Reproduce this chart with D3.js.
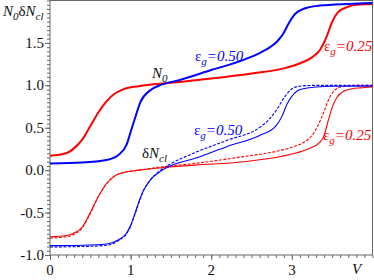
<!DOCTYPE html>
<html>
<head>
<meta charset="utf-8">
<script src="https://cdn.jsdelivr.net/npm/d3@7"></script>
</head>
<body style="margin:0">
<script>
// N0 curves (thick)
const n0RedV   = [0, 0.2, 0.3, 0.4, 0.5, 0.6, 0.7, 0.8, 0.9, 1.1, 1.5, 2.0, 2.5, 2.9, 3.1, 3.25, 3.35, 3.43, 3.5, 3.57, 3.68, 3.8, 4.0];
const n0RedY   = [0.17, 0.2, 0.26, 0.36, 0.52, 0.68, 0.81, 0.9, 0.95, 0.99, 1.03, 1.08, 1.14, 1.2, 1.26, 1.33, 1.42, 1.57, 1.75, 1.86, 1.92, 1.95, 1.96];
const n0BlueV  = [0, 0.4, 0.7, 0.85, 0.95, 1.0, 1.05, 1.12, 1.24, 1.36, 1.6, 2.0, 2.4, 2.6, 2.73, 2.82, 2.9, 2.96, 3.02, 3.14, 3.35, 3.7, 4.0];
const n0BlueY  = [0.08, 0.09, 0.12, 0.18, 0.3, 0.45, 0.6, 0.8, 0.94, 1.0, 1.06, 1.18, 1.3, 1.38, 1.45, 1.52, 1.62, 1.73, 1.82, 1.9, 1.94, 1.96, 1.97];

// dNcl curves (thin solid / dashed)
const clRedV    = [0, 0.2, 0.3, 0.4, 0.5, 0.6, 0.7, 0.8, 0.9, 1.1, 1.4, 1.8, 2.4, 3.0, 3.2, 3.35, 3.4, 3.45, 3.5, 3.56, 3.64, 3.75, 3.85, 4.0];
const clRedY    = [-0.785, -0.77, -0.74, -0.67, -0.5, -0.31, -0.16, -0.07, -0.03, 0.0, 0.03, 0.06, 0.1, 0.19, 0.25, 0.33, 0.41, 0.58, 0.74, 0.86, 0.93, 0.96, 0.97, 0.98];
const clRedDV   = [0, 0.2, 0.3, 0.4, 0.5, 0.6, 0.7, 0.8, 0.9, 1.1, 1.4, 1.8, 2.4, 2.8, 3.0, 3.15, 3.25, 3.32, 3.39, 3.47, 3.54, 3.65, 3.8, 4.0];
const clRedDY   = [-0.8, -0.785, -0.755, -0.68, -0.51, -0.31, -0.16, -0.07, -0.03, 0.0, 0.04, 0.08, 0.16, 0.22, 0.27, 0.33, 0.41, 0.52, 0.67, 0.86, 0.95, 0.99, 1.0, 1.0];
const clBlueV   = [0, 0.4, 0.7, 0.85, 0.95, 1.0, 1.05, 1.1, 1.16, 1.24, 1.36, 1.47, 1.8, 2.2, 2.6, 2.8, 2.88, 2.94, 3.0, 3.06, 3.14, 3.3, 3.5, 4.0];
const clBlueY   = [-0.89, -0.885, -0.87, -0.82, -0.74, -0.65, -0.52, -0.38, -0.24, -0.12, -0.02, 0.04, 0.14, 0.28, 0.41, 0.52, 0.64, 0.78, 0.87, 0.93, 0.96, 0.98, 0.99, 0.99];
const clBlueDV  = [0, 0.4, 0.7, 0.85, 0.95, 1.0, 1.05, 1.1, 1.16, 1.24, 1.36, 1.47, 1.78, 2.19, 2.61, 2.72, 2.81, 2.88, 2.94, 3.02, 3.1, 3.3, 4.0];
const clBlueDY  = [-0.905, -0.9, -0.885, -0.83, -0.75, -0.66, -0.53, -0.39, -0.24, -0.12, -0.01, 0.06, 0.2, 0.35, 0.51, 0.6, 0.71, 0.82, 0.9, 0.97, 0.99, 1.0, 1.0];

const yTicks = [-1.0, -0.5, 0.0, 0.5, 1.0, 1.5];
const xTicks = [0, 1, 2, 3];

const width = 374, height = 280;
const mLeft = 50, mRight = 372.5, mTop = 0.5, mBottom = 255;
const axisColor = '#666';
const serif = '"Liberation Serif"';

const svg = d3.select('body').append('svg')
  .attr('width', width).attr('height', height);

const x = d3.scaleLinear().domain([0, 4]).range([mLeft, mRight]);
const y = d3.scaleLinear().domain([-1, 2]).range([mBottom, mTop]);

// tick marks (minor then major), labels drawn separately
function ticks(axis, t) {
  svg.append('g').attr('transform', t).call(axis)
    .call(g => g.select('.domain').remove())
    .call(g => g.selectAll('line').attr('stroke', axisColor));
}
ticks(d3.axisLeft(y).tickValues(d3.range(-1, 2.001, 0.05)).tickSize(3).tickFormat(''), `translate(${mLeft},0)`);
ticks(d3.axisBottom(x).tickValues(d3.range(0, 4.001, 0.1)).tickSize(3).tickFormat(''), `translate(0,${mBottom})`);
ticks(d3.axisLeft(y).tickValues(yTicks).tickSize(5).tickFormat(''), `translate(${mLeft},0)`);
ticks(d3.axisBottom(x).tickValues(xTicks).tickSize(5).tickFormat(''), `translate(0,${mBottom})`);

svg.selectAll('text.ylab')
  .data(yTicks)
  .join('text')
  .attr('class', 'ylab')
  .attr('x', mLeft - 6).attr('y', d => y(d) + 5)
  .attr('text-anchor', 'end').attr('fill', '#111')
  .style('font-family', serif).style('font-size', '15px')
  .text(d => d.toFixed(1));
svg.selectAll('text.xlab')
  .data(xTicks)
  .join('text')
  .attr('class', 'xlab')
  .attr('x', d => x(d)).attr('y', mBottom + 20)
  .attr('text-anchor', 'middle').attr('fill', '#111')
  .style('font-family', serif).style('font-size', '15px')
  .text(d => d);

// frame
svg.append('rect')
  .attr('x', mLeft).attr('y', mTop)
  .attr('width', mRight - mLeft).attr('height', mBottom - mTop)
  .attr('fill', 'none').attr('stroke', axisColor).attr('stroke-width', 1);

svg.append('clipPath').attr('id', 'clip')
  .append('rect').attr('x', mLeft).attr('y', 0).attr('width', mRight - mLeft).attr('height', mBottom);

const line = d3.line().x(d => x(d[0])).y(d => y(d[1])).curve(d3.curveMonotoneX);
const plot = svg.append('g').attr('clip-path', 'url(#clip)');

const series = [
  { v: clRedDV,  y: clRedDY,  color: '#ff0000', w: 1.1, dash: '3,1.5' },
  { v: clBlueDV, y: clBlueDY, color: '#0000ff', w: 1.1, dash: '3,1.5' },
  { v: clRedV,   y: clRedY,   color: '#ff0000', w: 1.1, dash: null },
  { v: clBlueV,  y: clBlueY,  color: '#0000ff', w: 1.1, dash: null },
  { v: n0RedV,   y: n0RedY,   color: '#ff0000', w: 2, dash: null },
  { v: n0BlueV,  y: n0BlueY,  color: '#0000ff', w: 2, dash: null }
];

plot.selectAll('path.curve')
  .data(series)
  .join('path')
  .attr('class', 'curve')
  .attr('d', s => line(s.v.map((v, i) => [v, s.y[i]])))
  .attr('fill', 'none')
  .attr('stroke', s => s.color)
  .attr('stroke-width', s => s.w)
  .attr('stroke-dasharray', s => s.dash);

// text labels with subscripts
function label(xp, yp, parts, color) {
  const t = svg.append('text').attr('x', xp).attr('y', yp)
    .style('font-family', serif).style('font-size', '15px')
    .style('font-style', 'italic').attr('fill', color);
  parts.forEach(p => {
    const ts = t.append('tspan').text(p.t);
    if (p.sub) ts.style('font-size', '11px').attr('dy', 4);
    if (p.up) ts.attr('dy', -4);
    if (p.normal) ts.style('font-style', 'normal');
  });
  return t;
}

const eps = val => [{ t: '\u03b5', normal: true }, { t: 'g', sub: true }, { t: '=' + val, up: true }];

label(3, 16, [{ t: 'N' }, { t: '0', sub: true }, { t: '\u03b4', normal: true, up: true }, { t: 'N' }, { t: 'cl', sub: true }], '#111');
label(152, 78, [{ t: 'N' }, { t: '0', sub: true }], '#111');
label(142, 158, [{ t: '\u03b4', normal: true }, { t: 'N' }, { t: 'cl', sub: true }], '#111');
label(195, 61, eps('0.50'), '#0000ff');
label(324, 51, eps('0.25'), '#ff0000');
label(194, 135, eps('0.50'), '#0000ff');
label(323, 140, eps('0.25'), '#ff0000');
label(352, 274, [{ t: 'V' }], '#111');
</script>
</body>
</html>
